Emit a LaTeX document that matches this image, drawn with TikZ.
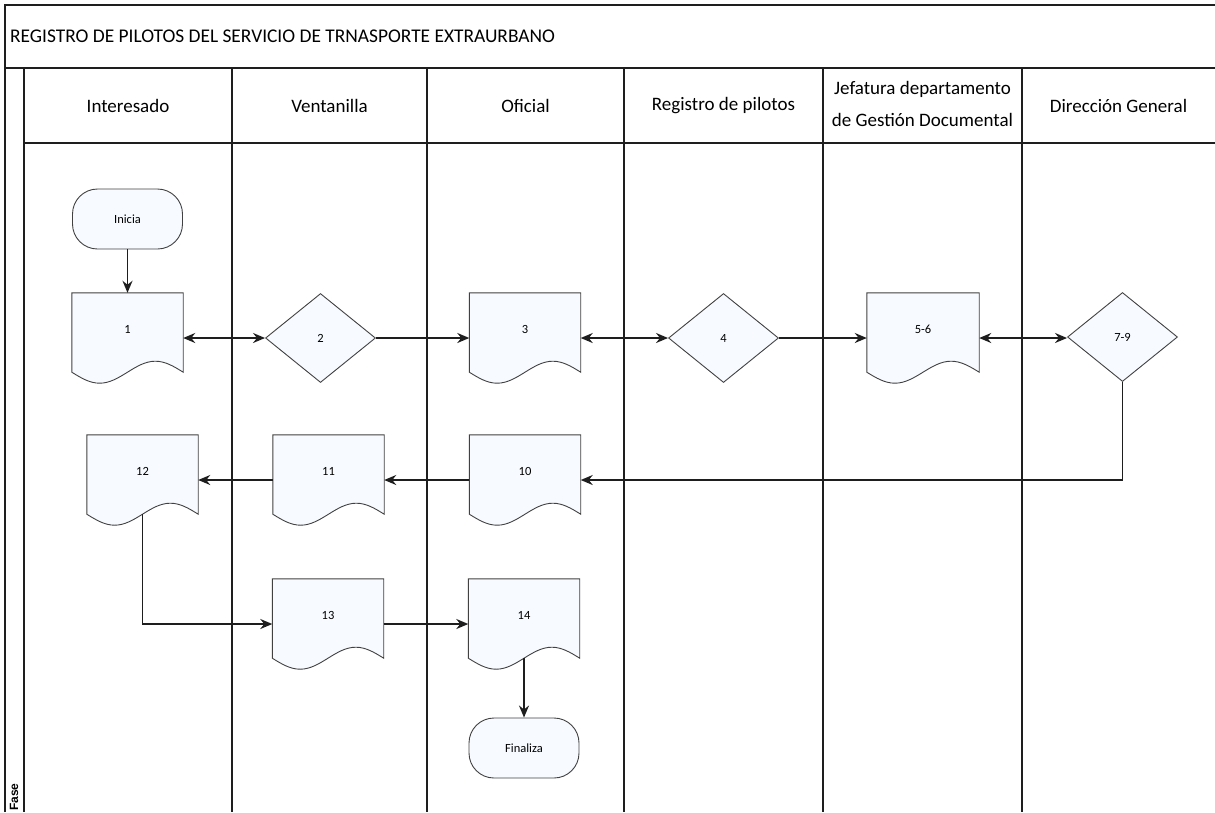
\documentclass[tikz,border=0pt]{standalone}
\usepackage{fontspec}
\setmainfont{Carlito}
\newfontfamily\fasefont{Liberation Sans}
\usetikzlibrary{arrows.meta,calc,shapes.geometric}
\pgfdeclarelayer{background}
\pgfsetlayers{background,main}
\definecolor{shapefill}{RGB}{247,250,254}
\definecolor{linecol}{RGB}{30,30,30}
\definecolor{shapeline}{RGB}{65,65,65}

\tikzset{
  frameline/.style={draw=linecol, line width=1.3pt},
  docnode/.style={rectangle, minimum width=111pt, minimum height=90pt, inner sep=0pt,
    text height=9pt, text depth=19pt, font=\fontsize{12.5}{14}\selectfont},
  docoutline/.style={draw=shapeline, line width=0.9pt, fill=shapefill},
  decision/.style={diamond, draw=shapeline, line width=0.9pt, fill=shapefill,
    minimum width=110pt, minimum height=89pt, inner sep=0pt, font=\fontsize{12.5}{14}\selectfont},
  terminal/.style={rectangle, rounded corners=25pt, draw=shapeline, line width=0.9pt, fill=shapefill,
    minimum width=110pt, minimum height=60pt, font=\fontsize{12.5}{14}\selectfont},
  flow/.style={draw=linecol, line width=1.7pt, -{Stealth[length=12pt,width=10pt]}},
  flowboth/.style={draw=linecol, line width=1.7pt, {Stealth[length=12pt,width=10pt]}-{Stealth[length=12pt,width=10pt]}},
  lanehead/.style={font=\fontsize{19}{32}\selectfont, align=center, inner sep=0pt},
}

\newcommand\docshape[1]{%
  \draw[docoutline] (#1.north west) -- ($(#1.south west)+(0,-11)$)
    sin ($(#1.south)!0.5!(#1.south west)$)
    cos ($(#1.south)+(0,-11)$)
    sin ($(#1.south)!0.5!(#1.south east)+(0,-22)$)
    cos ($(#1.south east)+(0,-11)$) -- (#1.north east) -- cycle;}

\begin{document}
\begin{tikzpicture}[x=1pt,y=-1pt]
\useasboundingbox (0,0) rectangle (1215,812);

% frame and lanes
\draw[frameline] (5,812) -- (5,5) -- (1215,5);
\draw[frameline] (5,68) -- (1215,68);
\draw[frameline] (24,143) -- (1215,143);
\foreach \x in {24,232,427,624,823,1022} \draw[frameline] (\x,68) -- (\x,812);

\node[anchor=west, inner sep=0pt, font=\fontsize{19.4}{23}\selectfont] (title) at (10,36)
  {REGISTRO DE PILOTOS DEL SERVICIO DE TRNASPORTE EXTRAURBANO};
\node[rotate=90, inner sep=0pt, font=\fasefont\bfseries\fontsize{12}{14}\selectfont] (fase) at (14,797) {Fase};

\node[lanehead] (h1) at (128,105.5) {Interesado};
\node[lanehead] (h2) at (329.5,105.5) {Ventanilla};
\node[lanehead] (h3) at (525.5,105.5) {Oficial};
\node[lanehead] (h4) at (723.5,105.5) {Registro de pilotos};
\node[lanehead] (h5) at (922.5,104) {Jefatura departamento\\de Gestión Documental};
\node[lanehead] (h6) at (1118.5,105.5) {Dirección General};

% nodes
\node[terminal] (ini) at (127.5,219) {Inicia};
\node[docnode] (d1) at (127.5,338) {1};
\node[decision] (x2) at (320.5,338) {2};
\node[docnode] (d3) at (525,338) {3};
\node[decision] (x4) at (723.5,338) {4};
\node[docnode, minimum width=112pt] (d56) at (923,338) {5-6};
\node[decision] (x79) at (1122.5,337) {7-9};
\node[docnode] (d10) at (525,480) {10};
\node[docnode] (d11) at (328.5,480) {11};
\node[docnode] (d12) at (142.5,480) {12};
\node[docnode] (d13) at (328,624) {13};
\node[docnode] (d14) at (524,624) {14};
\node[terminal] (fin) at (524,748) {Finaliza};

\begin{pgfonlayer}{background}
  \foreach \n in {d1,d3,d56,d10,d11,d12,d13,d14} {\docshape{\n}}
\end{pgfonlayer}

% connectors
\draw[flow] (ini) -- (d1);
\draw[flowboth] (d1.east) -- (x2.west);
\draw[flow] (x2.east) -- (d3.west);
\draw[flowboth] (d3.east) -- (x4.west);
\draw[flow] (x4.east) -- (d56.west);
\draw[flowboth] (d56.east) -- (d56.east -| x79.west);
\draw[flow] (x79.south) |- (d10.east);
\draw[flow] (d10.west) -- (d11.east);
\draw[flow] (d11.west) -- (d12.east);
\draw[flow] ($(d12.south)+(0,-11)$) |- (d13.west);
\draw[flow] (d13.east) -- (d14.west);
\draw[flow] ($(d14.south)+(0,-11)$) -- (fin.north);
\end{tikzpicture}
\end{document}
